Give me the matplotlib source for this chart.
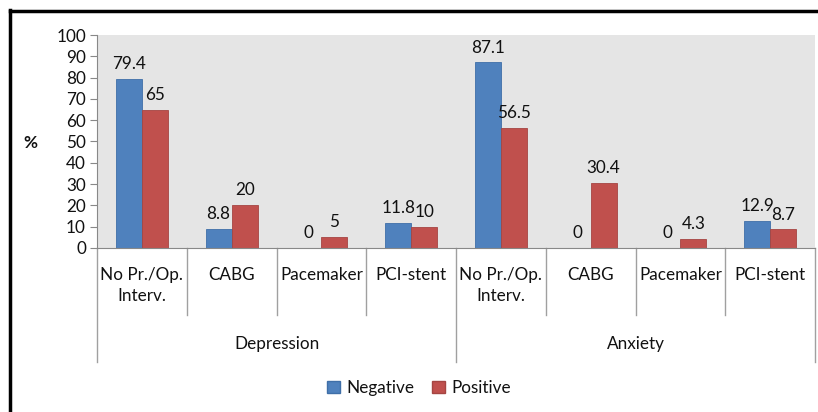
import matplotlib
matplotlib.use("Agg")
from matplotlib import pyplot as plt
import matplotlib.patches as mpatches
import matplotlib.lines as mlines
import numpy as np

groups = ["Depression", "Anxiety"]
procedures = ["No Pr./Op.\nInterv.", "CABG", "Pacemaker", "PCI-stent"]
negative = [79.4, 8.8, 0, 11.8, 87.1, 0, 0, 12.9]
positive = [65, 20, 5, 10, 56.5, 30.4, 4.3, 8.7]
yticks = [0, 10, 20, 30, 40, 50, 60, 70, 80, 90, 100]

blue = "#4F81BD"
red = "#C0504D"
fs = 12.3
plt.rcParams["font.family"] = ["Lato", "DejaVu Sans"]
plt.rcParams["text.color"] = "#111111"

fig = plt.figure(figsize=(8.18, 4.12), dpi=100)
W, H = 818, 412
left, right, top, bottom = 97, 815, 35, 248
ax = fig.add_axes([left / W, 1 - bottom / H, (right - left) / W, (bottom - top) / H])
ax.set_facecolor("#E5E5E5")

# frame around the figure (only left/top visible, rest cut off)
fig.add_artist(mlines.Line2D([10 / W, 10 / W], [0, 1 - 10 / H], color="black", lw=2.5))
fig.add_artist(mlines.Line2D([10 / W, 1], [1 - 11 / H, 1 - 11 / H], color="black", lw=2.5))

n = len(negative)
x = np.arange(n) + 0.5
bw = 0.29
ax.bar(x - bw / 2, negative, bw, color=blue, edgecolor="#3F6FA8", lw=0.6)
ax.bar(x + bw / 2, positive, bw, color=red, edgecolor="#A54542", lw=0.6)

for xi, v in zip(x - bw / 2, negative):
    ax.annotate(f"{v:g}", (xi, v), xytext=(0, 5), textcoords="offset points",
                ha="center", va="bottom", fontsize=fs)
for xi, v in zip(x + bw / 2, positive):
    ax.annotate(f"{v:g}", (xi, v), xytext=(0, 5), textcoords="offset points",
                ha="center", va="bottom", fontsize=fs)

ax.set_xlim(0, n)
ax.set_ylim(0, 100)
ax.set_yticks(yticks)
ax.tick_params(axis="y", direction="out", length=5, color="#888888", labelsize=fs,
               labelcolor="#111111", pad=3)
ax.set_xticks([])
for s in ["top", "right"]:
    ax.spines[s].set_visible(False)
ax.spines["left"].set_color("#888888")
ax.spines["bottom"].set_color("#888888")

# category separators and labels below the axis
tr = ax.get_xaxis_transform()
inner = (bottom - 315) / (bottom - top)
outer = (bottom - 362) / (bottom - top)
for k in range(n + 1):
    y0 = outer if k % 4 == 0 else inner
    ax.plot([k, k], [0, y0], transform=tr, color="#A0A0A0", lw=1, clip_on=False)
lab_y = (bottom - 267) / (bottom - top)
for i, xi in enumerate(x):
    ax.text(xi, lab_y, procedures[i % 4], transform=tr, ha="center", va="top",
            fontsize=fs, linespacing=1.35)
grp_y = (bottom - 344) / (bottom - top)
for g, name in enumerate(groups):
    ax.text(g * 4 + 2, grp_y, name, transform=tr, ha="center", va="center", fontsize=fs)

fig.text(30 / W, 1 - 143 / H, "%", ha="center", va="center", fontsize=fs, fontweight="bold")

handles = [mpatches.Patch(facecolor=blue, edgecolor="#3F6FA8", label="Negative"),
           mpatches.Patch(facecolor=red, edgecolor="#A54542", label="Positive")]
fig.legend(handles=handles, loc="center", bbox_to_anchor=(419 / W, 1 - 388 / H), ncol=2,
           frameon=False, fontsize=fs, handlelength=0.75, handleheight=0.75,
           handletextpad=0.4, columnspacing=1.0)

fig.savefig("out.png", dpi=100)
